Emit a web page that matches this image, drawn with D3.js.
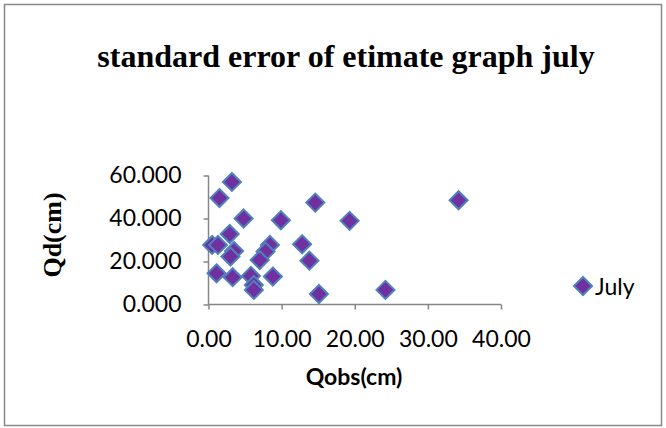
<!DOCTYPE html>
<html>
<head>
<meta charset="utf-8">
<script src="https://cdn.jsdelivr.net/npm/d3@7"></script>
<style>
  body { margin: 0; background: #fff; }
  svg text { fill: #000; }
</style>
</head>
<body>
<svg id="chart-svg"></svg>
<script>
// Data (Qobs, Qd)
var qobs = [3.2, 1.5, 14.6, 34.2, 4.8, 9.9, 19.3, 2.9, 0.5, 1.3, 3.5, 3.0, 8.4, 7.8, 7.0,
            12.8, 13.8, 1.1, 3.3, 5.8, 8.8, 6.2, 6.2, 15.1, 24.2];
var qd = [57.0, 49.5, 47.4, 48.5, 40.0, 39.2, 38.9, 32.8, 27.7, 27.7, 24.9, 22.3, 27.7, 24.6, 20.7,
          28.0, 20.4, 14.5, 12.7, 13.3, 13.0, 9.1, 6.8, 4.9, 6.8];
var xTicks = [0, 10, 20, 30, 40];
var yTicks = [0, 20, 40, 60];
var seriesName = 'July';

var data = qobs.map(function(d, i) { return { x: d, y: qd[i] }; });

var W = 666, H = 428;
var svg = d3.select('#chart-svg').attr('width', W).attr('height', H);

var serifFont = '"Liberation Serif", "DejaVu Serif", "Noto Serif", "Times New Roman", Times, serif';
var numFont = 'Lato, Carlito, Calibri, sans-serif';
var axisColor = '#868686';

// Chart frame
svg.append('rect')
    .attr('x', 4.5).attr('y', 4.5)
    .attr('width', 657).attr('height', 421)
    .attr('fill', '#fff')
    .attr('stroke', '#888')
    .attr('stroke-width', 1.5);

// Title
svg.append('text')
    .attr('x', 346).attr('y', 67)
    .attr('text-anchor', 'middle')
    .style('font-family', serifFont)
    .style('font-weight', 'bold')
    .style('font-size', '32px')
    .text('standard error of etimate graph july');

// Scales
var xScale = d3.scaleLinear().domain([0, 40]).range([208.5, 501]);
var yScale = d3.scaleLinear().domain([0, 60]).range([304.5, 175.5]);

var xAxis = d3.axisBottom(xScale).tickValues(xTicks).tickFormat(d3.format('.2f')).tickSize(5).tickPadding(21);
var yAxis = d3.axisLeft(yScale).tickValues(yTicks).tickFormat(d3.format('.3f')).tickSize(5).tickPadding(22);

var gx = svg.append('g')
    .attr('transform', 'translate(0,' + yScale(0) + ')')
    .call(xAxis);
var gy = svg.append('g')
    .attr('transform', 'translate(' + xScale(0) + ',0)')
    .call(yAxis);

[gx, gy].forEach(function(g) {
    g.selectAll('path, line').attr('stroke', axisColor).attr('stroke-width', 1.5);
    g.selectAll('text')
        .style('font-family', numFont)
        .style('font-size', '23px')
        .attr('fill', '#000');
});
// axis lines without end caps
gx.select('.domain').attr('d', 'M' + xScale(0) + ',0H' + xScale(40));
gy.select('.domain').attr('d', 'M0,' + yScale(0) + 'V' + yScale(60));

// Axis titles
svg.append('text')
    .attr('x', 354).attr('y', 385)
    .attr('text-anchor', 'middle')
    .style('font-family', numFont)
    .style('font-weight', 'bold')
    .style('font-size', '23px')
    .text('Qobs(cm)');

svg.append('text')
    .attr('transform', 'translate(61,235) rotate(-90)')
    .attr('text-anchor', 'middle')
    .style('font-family', serifFont)
    .style('font-weight', 'bold')
    .style('font-size', '26px')
    .text('Qd(cm)');

// Markers
function diamond(r) {
    return 'M0,' + (-r) + 'L' + r + ',0L0,' + r + 'L' + (-r) + ',0Z';
}

svg.append('g').selectAll('path')
    .data(data)
    .enter()
    .append('path')
    .attr('d', diamond(9))
    .attr('transform', function(d) { return 'translate(' + xScale(d.x) + ',' + yScale(d.y) + ')'; })
    .attr('fill', '#7030A0')
    .attr('stroke', '#4F81BD')
    .attr('stroke-width', 2);

// Legend
var legend = svg.append('g').attr('transform', 'translate(583,286)');
legend.append('path')
    .attr('d', diamond(9))
    .attr('fill', '#7030A0')
    .attr('stroke', '#4F81BD')
    .attr('stroke-width', 2);
legend.append('text')
    .attr('x', 12).attr('y', 9)
    .style('font-family', numFont)
    .style('font-size', '23px')
    .text(seriesName);
</script>
</body>
</html>
